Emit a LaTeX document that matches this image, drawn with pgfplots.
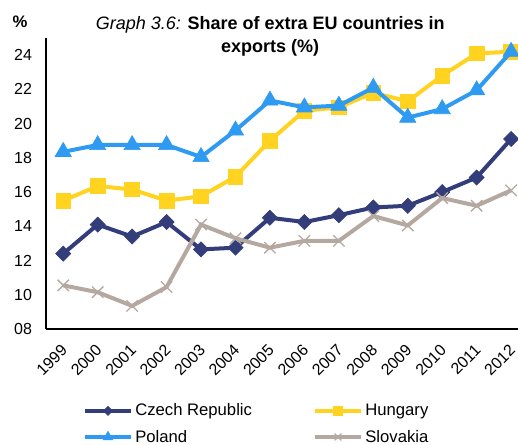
\documentclass[border=0pt]{standalone}
\usepackage{pgfplots}
\pgfplotsset{compat=1.18}
\usepackage{fontspec}
\setmainfont{Liberation Sans}
\definecolor{czech}{HTML}{333D79}
\definecolor{hungary}{HTML}{FFD320}
\definecolor{poland}{HTML}{2E9AF2}
\definecolor{slovakia}{HTML}{B5A8A0}
\begin{document}
\begin{tikzpicture}
% frame of the picture: 518x444 px at 0.75pt per px, axis box at the origin
\path[use as bounding box] (-34.5pt,-86.25pt) rectangle (354pt,246.75pt);
\begin{axis}[
  scale only axis, width=354pt, height=218.25pt,
  at={(0,0)}, anchor=south west,
  clip mode=individual,
  xmin=1998.5, xmax=2012.2, ymin=8, ymax=25,
  axis lines=left, axis line style={-, line width=1.1pt},
  xtick={1999,...,2012}, ytick={8,10,...,24},
  yticklabels={08,10,12,14,16,18,20,22,24},
  major tick length=0pt,
  /pgf/number format/assume math mode=true,
  /pgf/number format/1000 sep={},
  tick label style={font=\fontsize{12}{14}\selectfont},
  xticklabel style={rotate=45, anchor=north east, inner sep=1pt, yshift=-5pt, xshift=-8pt},
  yticklabel style={xshift=-7pt},
  legend columns=2,
  legend cell align=left,
  legend style={draw=none, fill=none, at={(0.07,-0.238)}, anchor=north west,
    font=\fontsize{12.5}{15}\selectfont, row sep=5pt,
    /tikz/every even column/.append style={column sep=44pt}},
  legend image code/.code={
    \draw[mark repeat=2, mark phase=2, every mark/.append style={scale=0.6}]
      plot coordinates {(0pt,0pt) (17pt,0pt) (34pt,0pt)};},
]
\addplot[czech, line width=3pt, mark=square*, mark size=4pt,
  mark options={rotate=45, line width=0.5pt}] coordinates {
  (1999,12.4) (2000,14.1) (2001,13.4) (2002,14.25) (2003,12.65) (2004,12.75)
  (2005,14.5) (2006,14.25) (2007,14.65) (2008,15.1) (2009,15.2) (2010,16.0)
  (2011,16.85) (2012,19.1)};
\addlegendentry{Czech Republic}
\addplot[hungary, line width=3pt, mark=square*, mark size=5.5pt,
  mark options={line width=0.5pt}] coordinates {
  (1999,15.5) (2000,16.35) (2001,16.15) (2002,15.5) (2003,15.75) (2004,16.9)
  (2005,19.0) (2006,20.75) (2007,20.95) (2008,21.8) (2009,21.3) (2010,22.8)
  (2011,24.1) (2012,24.2)};
\addlegendentry{Hungary}
\addplot[poland, line width=3pt, mark=triangle*, mark size=7pt,
  mark options={line width=0.5pt}] coordinates {
  (1999,18.35) (2000,18.75) (2001,18.75) (2002,18.75) (2003,18.05) (2004,19.6)
  (2005,21.35) (2006,20.95) (2007,21.05) (2008,22.1) (2009,20.35) (2010,20.85)
  (2011,21.95) (2012,24.2)};
\addlegendentry{Poland}
\addplot[slovakia, line width=3pt, mark=x, mark size=6pt,
  mark options={line width=1pt}] coordinates {
  (1999,10.55) (2000,10.15) (2001,9.35) (2002,10.45) (2003,14.1) (2004,13.3)
  (2005,12.75) (2006,13.15) (2007,13.15) (2008,14.6) (2009,14.05) (2010,15.65)
  (2011,15.2) (2012,16.1)};
\addlegendentry{Slovakia}
\node[anchor=north, align=center, font=\fontsize{13.5}{17}\selectfont]
  at (rel axis cs:0.475,1.09)
  {\textit{Graph 3.6:} \textbf{Share of extra EU countries in}\\\textbf{exports (\%)}};
\node[anchor=center, font=\bfseries\fontsize{12.5}{15}\selectfont]
  at (rel axis cs:-0.055,1.055) {\%};
\end{axis}
\end{tikzpicture}
\end{document}
